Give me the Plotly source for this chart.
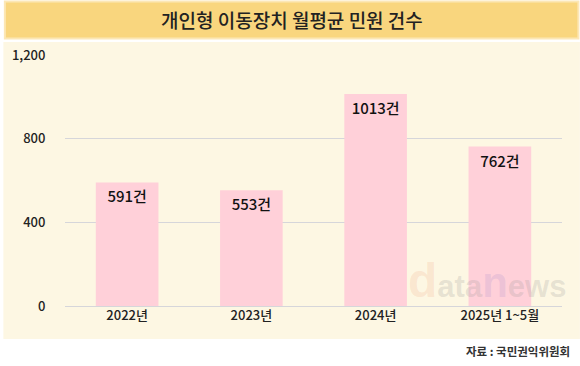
import plotly.graph_objects as go

categories = ["2022년", "2023년", "2024년", "2025년 1~5월"]
values = [591, 553, 1013, 762]
labels = ["591건", "553건", "1013건", "762건"]
tick_vals = [0, 400, 800, 1200]
tick_text = ["0", "400", "800", "1,200"]

FONT = "Noto Sans CJK KR"
W, H = 580, 366
L, R, T, B = 62, 18, 55, 60
pw, ph = W - L - R, H - T - B

def px_x(p):
    return (p - L) / pw

def px_y(p):
    return (H - B - p) / ph

fig = go.Figure()
fig.add_trace(go.Bar(
    x=categories, y=values, text=labels,
    textposition="inside", insidetextanchor="end",
    textfont=dict(family=FONT, size=15, color="#111111", weight=500),
    marker=dict(color="#FFD0D9", line=dict(width=0)),
    width=0.504, cliponaxis=False,
))

shapes = [
    dict(type="rect", xref="paper", yref="paper", layer="below",
         x0=px_x(0), x1=px_x(W), y0=px_y(339), y1=px_y(42),
         fillcolor="#FDF7E3", line=dict(width=0)),
    dict(type="rect", xref="paper", yref="paper", layer="above",
         x0=px_x(1.5), x1=px_x(578.5), y0=px_y(38.5), y1=px_y(1.5),
         fillcolor="#F9D67E", line=dict(width=2, color="#FCE7B5")),
]

annotations = [
    dict(text="개인형 이동장치 월평균 민원 건수", xref="paper", yref="paper",
         x=px_x(290), y=px_y(20), showarrow=False, xanchor="center", yanchor="middle",
         font=dict(family=FONT, size=19, color="#222222", weight=500)),
    dict(text="<b>자료 : 국민권익위원회</b>", xref="paper", yref="paper",
         x=px_x(572), y=px_y(351), showarrow=False, xanchor="right", yanchor="middle",
         font=dict(family=FONT, size=11.5, color="#333333")),
    dict(text="<b><span style='color:rgba(240,150,110,0.38);font-size:48px'>d</span>"
              "<span style='color:rgba(140,140,140,0.45)'>ata</span>"
              "<span style='color:rgba(140,120,200,0.38);font-size:42px'>n</span>"
              "<span style='color:rgba(140,140,140,0.45)'>ews</span></b>",
         xref="paper", yref="paper", x=px_x(487), y=px_y(280), showarrow=False,
         xanchor="center", yanchor="middle",
         font=dict(family="Liberation Sans", size=31, color="rgba(140,140,140,0.45)")),
]

fig.update_layout(
    width=W, height=H,
    margin=dict(l=L, r=R, t=T, b=B, pad=0),
    paper_bgcolor="#FFFFFF", plot_bgcolor="rgba(0,0,0,0)",
    showlegend=False, bargap=0.5,
    shapes=shapes, annotations=annotations,
    xaxis=dict(showgrid=False, showline=False, ticks="",
               tickfont=dict(family=FONT, size=13, color="#222222", weight=500),
               range=[-0.5, 3.5], fixedrange=True),
    yaxis=dict(range=[0, 1200], tickvals=tick_vals, ticktext=tick_text,
               showgrid=True, gridcolor="#D6D6DA", gridwidth=1,
               zeroline=True, zerolinecolor="#D6D6DA", zerolinewidth=1,
               showline=False, ticks="outside", ticklen=16, tickcolor="rgba(0,0,0,0)",
               tickfont=dict(family=FONT, size=13, color="#222222", weight=500),
               fixedrange=True),
)

fig.write_html("out.html", config={"displayModeBar": False},
               post_script="document.body.style.margin='0px';")
